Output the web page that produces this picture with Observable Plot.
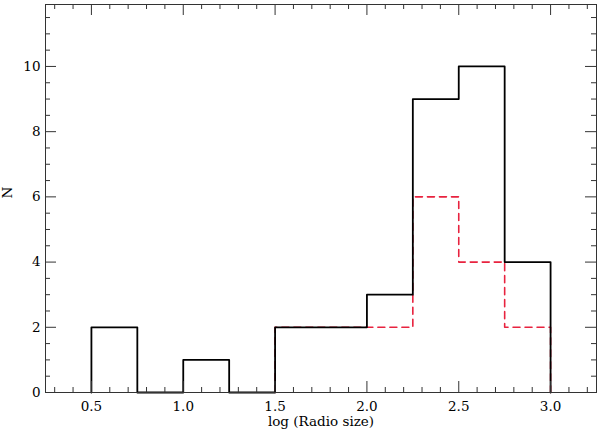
<!DOCTYPE html>
<html>
<head>
<meta charset="utf-8">
<script src="https://cdn.jsdelivr.net/npm/d3@7"></script>
<script src="https://cdn.jsdelivr.net/npm/@observablehq/plot@0.6"></script>
<style>
  html, body { margin: 0; padding: 0; background: #fff; }
  svg { display: block; }
</style>
</head>
<body>
<div id="chart"></div>
<script>
// Bin edges (log radio size) and counts
const binEdges = [0.5, 0.75, 1.0, 1.25, 1.5, 1.75, 2.0, 2.25, 2.5, 2.75, 3.0];
const allCounts = [2, 0, 1, 0, 2, 2, 3, 9, 10, 4];
const subEdges = [1.5, 1.75, 2.0, 2.25, 2.5, 2.75, 3.0];
const subCounts = [2, 2, 2, 6, 4, 2];

const xDomain = [0.25, 3.25];
const yDomain = [0, 11.9];
const xMajorTicks = [0.5, 1.0, 1.5, 2.0, 2.5, 3.0];
const xMinorTicks = d3.range(3, 33).map(d => d / 10).filter(d => !xMajorTicks.some(m => Math.abs(m - d) < 1e-9));
const yMajorTicks = [0, 2, 4, 6, 8, 10];
const yMinorTicks = d3.range(1, 24).map(d => d / 2).filter(d => d % 2 !== 0);

function stepPoints(edges, counts) {
  const pts = [{x: edges[0], y: 0}];
  counts.forEach((c, i) => pts.push({x: edges[i], y: c}));
  pts.push({x: edges[edges.length - 1], y: counts[counts.length - 1]});
  pts.push({x: edges[edges.length - 1], y: 0});
  return pts;
}
const allLine = stepPoints(binEdges, allCounts);
const subLine = stepPoints(subEdges, subCounts);

const tickColor = "#333";
const font = "DejaVu Serif, serif";

function xTicks(values, len) {
  return [
    Plot.ruleX(values, {x: d => d, y1: yDomain[0], y2: yDomain[0], insetBottom: len, stroke: tickColor, strokeWidth: 1}),
    Plot.ruleX(values, {x: d => d, y1: yDomain[1], y2: yDomain[1], insetTop: len, stroke: tickColor, strokeWidth: 1})
  ];
}
function yTicks(values, len) {
  return [
    Plot.ruleY(values, {y: d => d, x1: xDomain[0], x2: xDomain[0], insetRight: -len, stroke: tickColor, strokeWidth: 1}),
    Plot.ruleY(values, {y: d => d, x1: xDomain[1], x2: xDomain[1], insetLeft: -len, stroke: tickColor, strokeWidth: 1})
  ];
}

const chart = Plot.plot({
  width: 600,
  height: 432,
  marginLeft: 45,
  marginRight: 4,
  marginTop: 4,
  marginBottom: 40,
  style: {fontFamily: font, fontSize: "13px", color: "#000", background: "#fff"},
  x: {domain: xDomain, label: null},
  y: {domain: yDomain, label: null},
  marks: [
    Plot.line(subLine, {x: "x", y: "y", curve: "step-after", stroke: "#e8233f", strokeWidth: 1.6, strokeDasharray: "7,5"}),
    Plot.line(allLine, {x: "x", y: "y", curve: "step-after", stroke: "#000", strokeWidth: 1.8}),
    ...xTicks(xMajorTicks, 11),
    ...xTicks(xMinorTicks, 5),
    ...yTicks(yMajorTicks, 11),
    ...yTicks(yMinorTicks, 5),
    Plot.axisX(xMajorTicks, {anchor: "bottom", tickSize: 0, tickPadding: 9, tickFormat: d3.format(".1f"), fontSize: 13.5, label: null}),
    Plot.axisY(yMajorTicks, {anchor: "left", tickSize: 0, tickPadding: 5, tickFormat: d3.format("d"), fontSize: 13.5, label: null}),
    Plot.text(["log (Radio size)"], {x: (xDomain[0] + xDomain[1]) / 2, frameAnchor: "bottom", dy: 33, text: d => d, fontSize: 13.5}),
    Plot.text(["N"], {frameAnchor: "left", dx: -38, text: d => d, rotate: -90, fontSize: 13.5}),
    Plot.frame({stroke: tickColor, strokeWidth: 1})
  ]
});
document.getElementById("chart").appendChild(chart);
</script>
</body>
</html>
